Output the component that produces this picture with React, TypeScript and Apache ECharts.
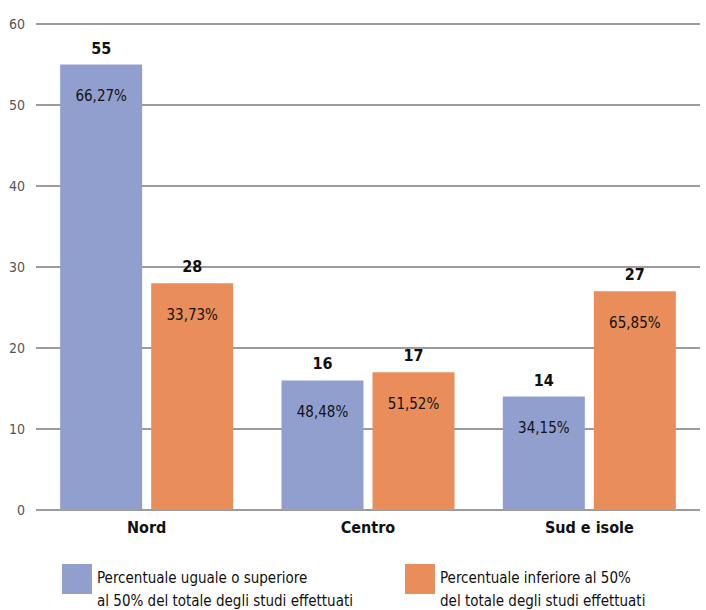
import React, { useEffect, useRef } from "react";
import * as echarts from "echarts";

const categories = ["Nord", "Centro", "Sud e isole"];
const legendLines = [
  ["Percentuale uguale o superiore", "al 50% del totale degli studi effettuati"],
  ["Percentuale inferiore al 50%", "del totale degli studi effettuati"],
];
const valuesHigh = [55, 16, 14];
const valuesLow = [28, 17, 27];
const pctHigh = ["66,27%", "48,48%", "34,15%"];
const pctLow = ["33,73%", "51,52%", "65,85%"];
const yTicks = { min: 0, max: 60, interval: 10 };

const FONT = "'DejaVu Sans Condensed', 'Liberation Sans Narrow', sans-serif";
const BLUE = "#919fcf";
const ORANGE = "#e98e5a";

export default function App() {
  const ref = useRef<HTMLDivElement>(null);
  useEffect(() => {
    if (!ref.current) return;
    const chart = echarts.init(ref.current, null, { renderer: "svg" });
    const mk = (name: string, vals: number[], pcts: string[], color: string) => ({
      name,
      type: "bar",
      barWidth: 82,
      barGap: "11%",
      itemStyle: { color },
      label: {
        show: true,
        position: "insideTop",
        distance: 24,
        formatter: (p: any) => pcts[p.dataIndex],
        color: "#111",
        fontSize: 15,
        fontFamily: FONT,
      },
      data: vals,
      markPoint: {
        symbol: "rect",
        symbolSize: 1,
        itemStyle: { color: "transparent" },
        label: {
          show: true,
          position: "top",
          distance: 8,
          color: "#111",
          fontWeight: "bold",
          fontSize: 16,
          fontFamily: FONT,
          formatter: (p: any) => String(p.value),
        },
        data: vals.map((v, i) => ({ coord: [i, v], value: v })),
      },
    });
    const legendGraphic = (x: number, color: string, lines: string[]) => [
      { type: "rect", left: x, top: 564, shape: { width: 30, height: 30 }, style: { fill: color } },
      {
        type: "text",
        left: x + 35,
        top: 566,
        style: {
          text: lines.join("\n"),
          fill: "#111",
          font: `15px ${FONT}`,
          lineHeight: 23,
        },
      },
    ];
    chart.setOption({
      animation: false,
      textStyle: { fontFamily: FONT },
      grid: { left: 36, right: 6, top: 24, bottom: 100, containLabel: false },
      graphic: [
        ...legendGraphic(62, BLUE, legendLines[0]),
        ...legendGraphic(405, ORANGE, legendLines[1]),
      ],
      xAxis: {
        type: "category",
        data: categories,
        axisTick: { show: false },
        axisLine: { show: false },
        axisLabel: {
          color: "#111",
          fontWeight: "bold",
          fontSize: 16,
          fontFamily: FONT,
          margin: 9,
        },
      },
      yAxis: {
        type: "value",
        min: yTicks.min,
        max: yTicks.max,
        interval: yTicks.interval,
        axisLine: { show: false },
        axisTick: { show: false },
        axisLabel: { color: "#555", fontSize: 14, fontFamily: FONT, margin: 11 },
        splitLine: { lineStyle: { color: "#7a7a7a", width: 1.5 } },
      },
      series: [
        mk(legendLines[0].join(" "), valuesHigh, pctHigh, BLUE),
        mk(legendLines[1].join(" "), valuesLow, pctLow, ORANGE),
      ],
    });
    return () => chart.dispose();
  }, []);
  return <div ref={ref} style={{ width: 706, height: 610, position: "absolute", left: 0, top: 0 }} />;
}
